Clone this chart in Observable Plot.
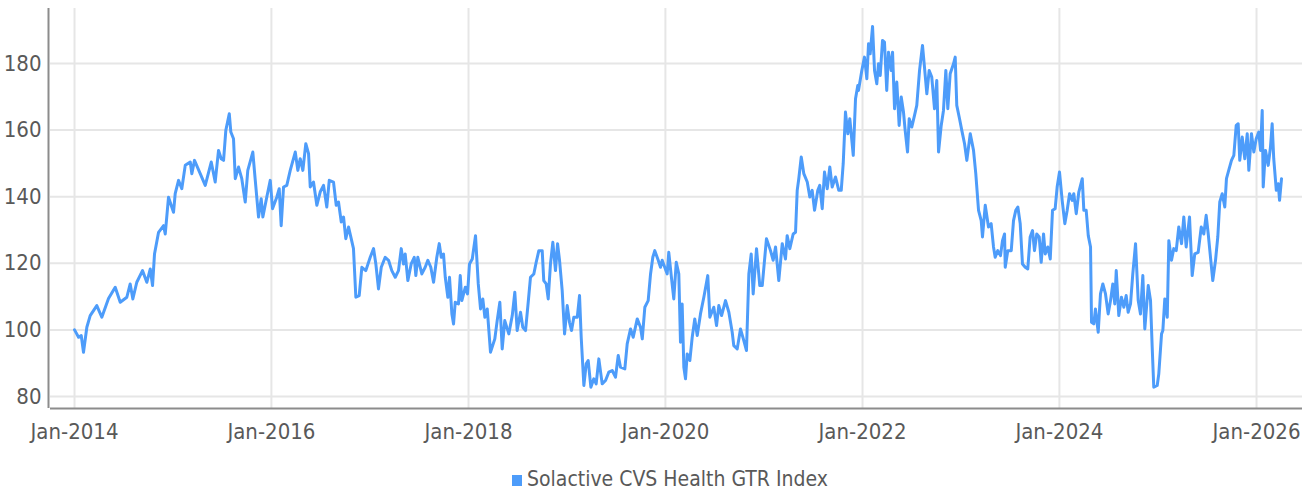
<!DOCTYPE html>
<html>
<head>
<meta charset="utf-8">
<script src="https://cdn.jsdelivr.net/npm/d3@7"></script>
<script src="https://cdn.jsdelivr.net/npm/@observablehq/plot@0.6"></script>
<style>
  html, body { margin: 0; padding: 0; background: #fff; }
  #wrap { position: relative; width: 1306px; height: 490px; }
  #legend { position: absolute; left: 512px; top: 469px; height: 20px; line-height: 20px;
    font-family: "DejaVu Sans Condensed", "DejaVu Sans", sans-serif;
    font-size: 21px; color: #595959; white-space: nowrap; }
  #legend .sw { display: inline-block; width: 10px; height: 11px; background: #4d9cfa; margin-right: 5px; vertical-align: 0px; }
</style>
</head>
<body>
<div id="wrap">
  <div id="chart"></div>
  <div id="legend"><span class="sw"></span>Solactive CVS Health GTR Index</div>
</div>
<script>
// Years elapsed since Jan-2014
const tYearsA = [0.000,0.041,0.068,0.091,0.125,0.159,0.226,0.277,0.345,0.413,
  0.464,0.531,0.565,0.592,0.632,0.690,0.734,0.769,0.792,0.812,
  0.853,0.904,0.921,0.954,1.005,1.022,1.056,1.089,1.124,1.175,
  1.191,1.218,1.276,1.327,1.388,1.428,1.462,1.489,1.513,1.536,
  1.571,1.587,1.614,1.632,1.665,1.698,1.733,1.759,1.810,1.835,
  1.868,1.895,1.912,1.952,1.987];
const valuesA = [100.0,97.8,98.3,93.3,100.8,104.3,107.3,103.8,109.4,112.8,
  108.3,109.8,113.8,109.3,114.3,117.8,114.3,118.3,113.3,122.8,
  129.3,131.3,128.8,139.8,135.3,140.9,144.9,142.4,149.4,150.4,
  146.9,150.9,146.9,143.4,150.4,144.4,153.9,151.4,150.9,159.9,
  164.9,159.4,157.4,145.4,148.9,145.4,138.4,147.9,153.4,144.9,
  133.9,139.4,133.9,139.9,144.9];

const tYearsB = [2.010,2.054,2.078,2.098,2.122,2.155,2.190,2.241,2.267,2.291,
  2.318,2.348,2.376,2.393,2.426,2.460,2.494,2.528,2.561,2.586,
  2.629,2.657,2.680,2.708,2.731,2.754,2.782,2.809,2.832,2.856,
  2.890,2.917,2.957,3.002,3.036,3.059,3.086,3.114,3.154,3.188,
  3.221,3.256,3.289,3.317,3.340,3.357,3.384,3.418,3.449,3.465,
  3.485,3.526,3.560,3.587,3.617,3.645,3.678,3.703,3.723,3.746,
  3.764,3.790,3.807,3.831,3.848,3.865,3.898,3.916,3.932,3.967,
  3.990,4.010];
const valuesB = [136.4,139.9,142.4,131.3,142.9,143.4,147.9,153.4,147.9,151.4,
  147.9,155.9,152.9,142.9,144.4,137.4,141.4,143.4,136.9,144.9,
  144.4,137.4,138.4,132.4,133.9,127.4,130.9,127.4,124.4,109.8,
  110.3,118.8,117.8,121.8,124.4,119.8,112.3,118.8,121.8,120.9,
  117.8,115.8,117.8,124.4,119.8,122.8,114.8,119.8,121.8,116.3,
  121.8,116.8,118.8,120.9,118.8,114.3,121.8,125.9,121.8,122.8,
  115.8,109.8,115.8,104.8,101.8,108.3,107.8,116.3,108.8,112.8,
  110.8,119.8];

const tYearsC = [4.038,4.071,4.099,4.122,4.145,4.166,4.190,4.223,4.267,4.291,
  4.318,4.342,4.368,4.409,4.444,4.470,4.494,4.528,4.551,4.579,
  4.606,4.629,4.663,4.687,4.714,4.748,4.764,4.789,4.809,4.832,
  4.856,4.883,4.904,4.924,4.951,4.975,5.002,5.025,5.046,5.069,
  5.104,5.127,5.144,5.171,5.195,5.215,5.242,5.272,5.296,5.323,
  5.357,5.391,5.424,5.459,5.492,5.520,5.543,5.587,5.611,5.645,
  5.672,5.713,5.746,5.764,5.790,5.824,5.848,5.871,5.891,5.926,
  5.949];
const valuesC = [121.3,128.3,113.8,106.3,109.3,103.8,106.3,93.3,97.3,102.8,
  108.3,94.3,102.8,98.8,104.3,111.3,99.8,105.3,100.8,99.8,
  108.3,115.8,116.8,120.3,123.8,123.8,114.8,113.8,109.3,119.8,
  126.3,117.8,125.9,120.9,111.8,98.8,107.3,102.3,99.8,103.8,
  103.8,110.3,97.8,83.3,89.8,90.8,82.8,85.3,83.8,91.3,
  83.8,84.8,87.3,87.8,85.8,92.3,88.8,88.3,95.8,100.3,
  97.8,103.3,100.8,97.3,106.8,108.8,116.8,121.8,123.8,120.9,
  118.8];

const tYearsD = [5.966,6.017,6.033,6.058,6.084,6.109,6.135,6.152,6.169,6.186,
  6.203,6.220,6.247,6.271,6.297,6.322,6.355,6.389,6.429,6.450,
  6.490,6.518,6.541,6.569,6.609,6.643,6.677,6.693,6.728,6.761,
  6.795,6.822,6.846,6.870,6.890,6.924,6.957,6.982,7.025,7.066,
  7.093,7.117,7.150,7.185,7.218,7.235,7.262,7.296,7.320,7.337,
  7.353,7.378,7.404,7.439,7.465,7.489,7.513,7.546,7.566,7.591,
  7.614,7.642,7.668,7.692,7.726,7.759,7.784,7.804,7.827,7.851,
  7.871,7.906,7.929,7.952];
const valuesD = [120.9,116.8,123.3,116.3,109.3,120.3,116.8,96.3,107.8,88.8,
  85.3,92.8,90.8,97.8,103.3,98.3,104.8,109.8,116.3,103.8,
  106.8,101.3,107.3,104.3,108.8,105.3,99.3,95.3,94.3,100.3,
  96.8,93.8,116.8,122.8,110.8,124.4,113.3,113.3,127.4,123.8,
  120.9,124.9,114.8,125.9,121.3,128.3,124.4,128.8,129.3,141.9,
  145.4,151.9,146.9,144.4,139.9,141.9,135.9,141.9,143.4,136.4,
  147.4,142.4,148.9,142.9,145.9,141.9,141.9,149.9,165.4,158.9,
  163.4,152.4,169.4,173.4];

const tYearsE = [7.959,7.993,8.020,8.044,8.061,8.078,8.102,8.122,8.145,8.162,
  8.180,8.203,8.223,8.246,8.264,8.291,8.305,8.325,8.348,8.372,
  8.393,8.416,8.433,8.457,8.474,8.500,8.528,8.551,8.579,8.609,
  8.629,8.653,8.677,8.703,8.731,8.754,8.772,8.799,8.822,8.846,
  8.866,8.890,8.924,8.941,8.957,8.985,9.008,9.036,9.059,9.094,
  9.127,9.150,9.178,9.205,9.218,9.246,9.279,9.306,9.330,9.347,
  9.373,9.401,9.421,9.442,9.449,9.475,9.510,9.533,9.556,9.577,
  9.601,9.624,9.652,9.678,9.702,9.726,9.746,9.769,9.794,9.814,
  9.838,9.855,9.881,9.906,9.929,9.956];
const valuesE = [171.9,177.9,181.9,175.4,185.9,182.9,191.1,177.9,173.9,179.9,
  176.4,186.9,186.4,171.9,183.4,177.9,183.4,166.4,174.4,161.4,
  169.9,165.4,159.9,153.4,163.4,160.9,164.4,167.4,177.9,185.4,
  178.9,170.9,177.9,175.9,166.4,174.9,153.4,161.4,165.9,177.9,
  166.4,176.9,179.9,181.9,167.4,163.4,159.9,155.9,150.9,158.9,
  153.9,146.9,135.9,132.8,127.9,137.4,130.9,131.9,124.9,121.8,
  123.8,122.3,126.8,128.8,118.8,123.8,123.8,132.8,135.9,136.9,
  131.9,119.8,118.8,118.3,127.9,129.8,123.8,128.8,127.9,120.3,
  128.8,122.8,124.9,121.3,135.9,136.4];

const tYearsF = [9.976,10.000,10.027,10.054,10.078,10.102,10.129,10.145,10.170,10.196,
  10.231,10.247,10.271,10.292,10.315,10.325,10.348,10.365,10.393,10.416,
  10.440,10.467,10.494,10.518,10.541,10.561,10.576,10.602,10.629,10.653,
  10.677,10.697,10.721,10.744,10.772,10.799,10.822,10.846,10.866,10.901,
  10.924,10.941,10.957,10.992,11.008,11.036,11.049,11.069,11.094,11.110,
  11.137,11.160,11.185,11.211,11.239,11.262,11.286,11.320,11.347,11.373,
  11.408,11.439,11.465,11.489,11.510,11.533,11.556,11.584,11.607,11.627,
  11.652,11.678,11.695,11.713,11.746,11.770,11.794,11.814,11.830,11.855,
  11.881,11.906,11.922,11.949,11.973,11.997,12.023,12.041,12.058,12.068,
  12.091,12.119,12.142,12.159,12.175,12.201,12.221,12.234,12.254];
const valuesF = [142.9,147.4,138.9,131.9,135.9,140.9,138.9,140.9,134.9,141.4,
  145.4,135.9,135.9,128.3,124.9,102.3,101.8,106.3,99.3,110.8,
  113.8,110.8,104.8,108.8,113.8,107.8,117.8,104.3,109.8,106.8,
  110.3,105.3,107.8,116.8,125.9,108.8,104.8,116.3,100.3,113.3,
  108.8,94.8,82.8,83.3,86.8,98.8,99.8,109.3,103.8,126.8,
  120.9,124.4,123.8,130.9,125.9,133.9,124.9,133.9,116.3,122.8,
  123.3,130.9,128.8,134.4,128.8,121.8,114.8,120.9,127.9,138.4,
  140.9,136.9,145.4,147.4,150.9,152.4,161.4,161.9,150.9,157.9,
  151.4,158.9,147.9,158.9,153.4,157.4,159.4,153.9,165.9,142.9,
  153.9,149.4,154.9,161.9,151.4,141.9,143.9,138.9,145.4];

const seriesName = "Solactive CVS Health GTR Index";
const xTickYears = [2014, 2016, 2018, 2020, 2022, 2024, 2026];
const yTicks = [80, 100, 120, 140, 160, 180];

const FONT = '"DejaVu Sans Condensed", "DejaVu Sans", sans-serif';
const start = Date.UTC(2014, 0, 1);
const toDate = t => new Date(start + t * 365.2425 * 864e5);

const tAll = [].concat(tYearsA, tYearsB, tYearsC, tYearsD, tYearsE, tYearsF);
const vAll = [].concat(valuesA, valuesB, valuesC, valuesD, valuesE, valuesF);
const n = Math.min(tAll.length, vAll.length);
const data = [];
for (let i = 0; i < n; i++) data.push({date: toDate(tAll[i]), value: vAll[i]});

const tickDates = xTickYears.map(y => new Date(Date.UTC(y, 0, 1)));
const xDomain = [toDate(-0.244), toDate(12.467)];
const yDomain = [76.4, 196.5];

const chart = Plot.plot({
  width: 1306,
  height: 448,
  marginLeft: 50,
  marginRight: 4,
  marginTop: 8,
  marginBottom: 40,
  style: {fontFamily: FONT, fontSize: "22px", color: "#595959", background: "#fff", overflow: "visible"},
  x: {type: "utc", domain: xDomain, ticks: tickDates, tickFormat: d3.utcFormat("%b-%Y"), tickSize: 0, tickPadding: 15, label: null},
  y: {domain: yDomain, ticks: yTicks, tickSize: 0, tickPadding: 9, label: null},
  marks: [
    Plot.ruleY(yTicks, {stroke: "#e6e6e6", strokeWidth: 2}),
    Plot.ruleX(tickDates, {stroke: "#e6e6e6", strokeWidth: 2}),
    Plot.line(data, {x: "date", y: "value", stroke: "#4d9cfa", strokeWidth: 3, title: () => seriesName}),
    Plot.ruleY([yDomain[0]], {stroke: "#8c8c8c", strokeWidth: 2}),
    Plot.ruleX([xDomain[0]], {stroke: "#8c8c8c", strokeWidth: 2, dx: -2})
  ]
});
document.getElementById("chart").appendChild(chart);
</script>
</body>
</html>
